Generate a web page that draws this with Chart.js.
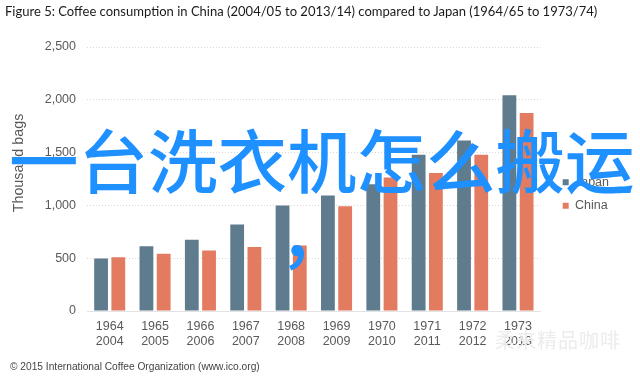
<!DOCTYPE html>
<html>
<head>
<meta charset="utf-8">
<script src="https://cdn.jsdelivr.net/npm/chart.js@4"></script>
<style>
    html, body { margin: 0; padding: 0; background: #fff; }
    #wrap { position: relative; width: 640px; height: 377px; overflow: hidden; }
    #chart { position: absolute; left: 0; top: 0; }
    .label { position: absolute; white-space: nowrap; }
    #fig-title { left: 5px; top: 3px; font: 13.03px Lato, sans-serif; color: #1a1a1a; }
    #y-title { left: 18px; top: 163px; font: 14.3px "Liberation Sans", sans-serif; color: #595959;
        transform: translate(-50%, -50%) rotate(-90deg); }
    #source { left: 10px; top: 361px; font: 10.2px "Liberation Sans", sans-serif; color: #444; }
    .overlay { position: absolute; white-space: nowrap; color: #1e90ff; font-family: "Noto Sans CJK SC", sans-serif; font-weight: 500; }
    #overlay-text { left: 9px; top: 110px; font-size: 69.5px; line-height: 96px; }
    #overlay-comma { left: 279px; top: 184px; font-size: 70px; line-height: 96px; }
    #watermark { left: 495px; top: 325px; font: 20px "Noto Sans CJK SC", sans-serif; color: #ececec; letter-spacing: 1px; }
</style>
</head>
<body>
<div id="wrap">
    <canvas id="chart" width="640" height="377"></canvas>
    <div class="label" id="fig-title">Figure 5: Coffee consumption in China (2004/05 to 2013/14) compared to Japan (1964/65 to 1973/74)</div>
    <div class="label" id="y-title">Thousand bags</div>
    <div class="label" id="source">© 2015 International Coffee Organization (www.ico.org)</div>
    <div class="label" id="watermark">柔来精品咖啡</div>
    <div class="overlay" id="overlay-text">一台洗衣机怎么搬运</div>
    <div class="overlay" id="overlay-comma">，</div>
</div>
<script>
// --- Chart Data --- //
const japanYears = ['1964', '1965', '1966', '1967', '1968', '1969', '1970', '1971', '1972', '1973'];
const chinaYears = ['2004', '2005', '2006', '2007', '2008', '2009', '2010', '2011', '2012', '2013'];
const japanValues = [497, 614, 675, 820, 1000, 1093, 1200, 1480, 1614, 2043];
const chinaValues = [510, 541, 573, 605, 620, 992, 1265, 1308, 1480, 1875];
const yTicks = [0, 500, 1000, 1500, 2000, 2500];

const tickColor = '#595959';
const tickFont = { family: '"Liberation Sans", sans-serif', size: 12.5 };

// Legend sits a bit higher and closer to the bars in the original
const legendNudge = {
    id: 'legendNudge',
    afterLayout(chart) {
        chart.legend.top -= 4;
        chart.legend.bottom -= 4;
        chart.legend.left += 11;
        chart.legend.right += 11;
    }
};

new Chart(document.getElementById('chart').getContext('2d'), {
    type: 'bar',
    data: {
        labels: japanYears.map((y, i) => [y, chinaYears[i]]),
        datasets: [
            { label: 'Japan', data: japanValues, backgroundColor: '#5f7b8e' },
            { label: 'China', data: chinaValues, backgroundColor: '#e37b60' }
        ]
    },
    options: {
        responsive: false,
        animation: false,
        categoryPercentage: 0.76,
        barPercentage: 0.8,
        layout: { padding: { left: 0, right: 32, top: 47, bottom: 28 } },
        scales: {
            x: {
                grid: { display: false },
                border: { color: '#e3e3e3', width: 1 },
                ticks: { color: tickColor, font: tickFont, maxRotation: 0, padding: 0 }
            },
            y: {
                min: 0,
                max: 2500,
                afterBuildTicks: scale => { scale.ticks = yTicks.map(value => ({ value })); },
                afterFit: scale => { scale.width = 87; },
                grid: { color: '#d8d8d8', drawTicks: false },
                border: { display: false, dash: [1, 2] },
                ticks: { color: tickColor, font: tickFont, padding: 11 }
            }
        },
        plugins: {
            legend: {
                position: 'right',
                labels: { color: tickColor, font: tickFont, boxWidth: 6, boxHeight: 6, padding: 11 }
            },
            tooltip: { enabled: false }
        }
    },
    plugins: [legendNudge]
});
</script>
</body>
</html>
